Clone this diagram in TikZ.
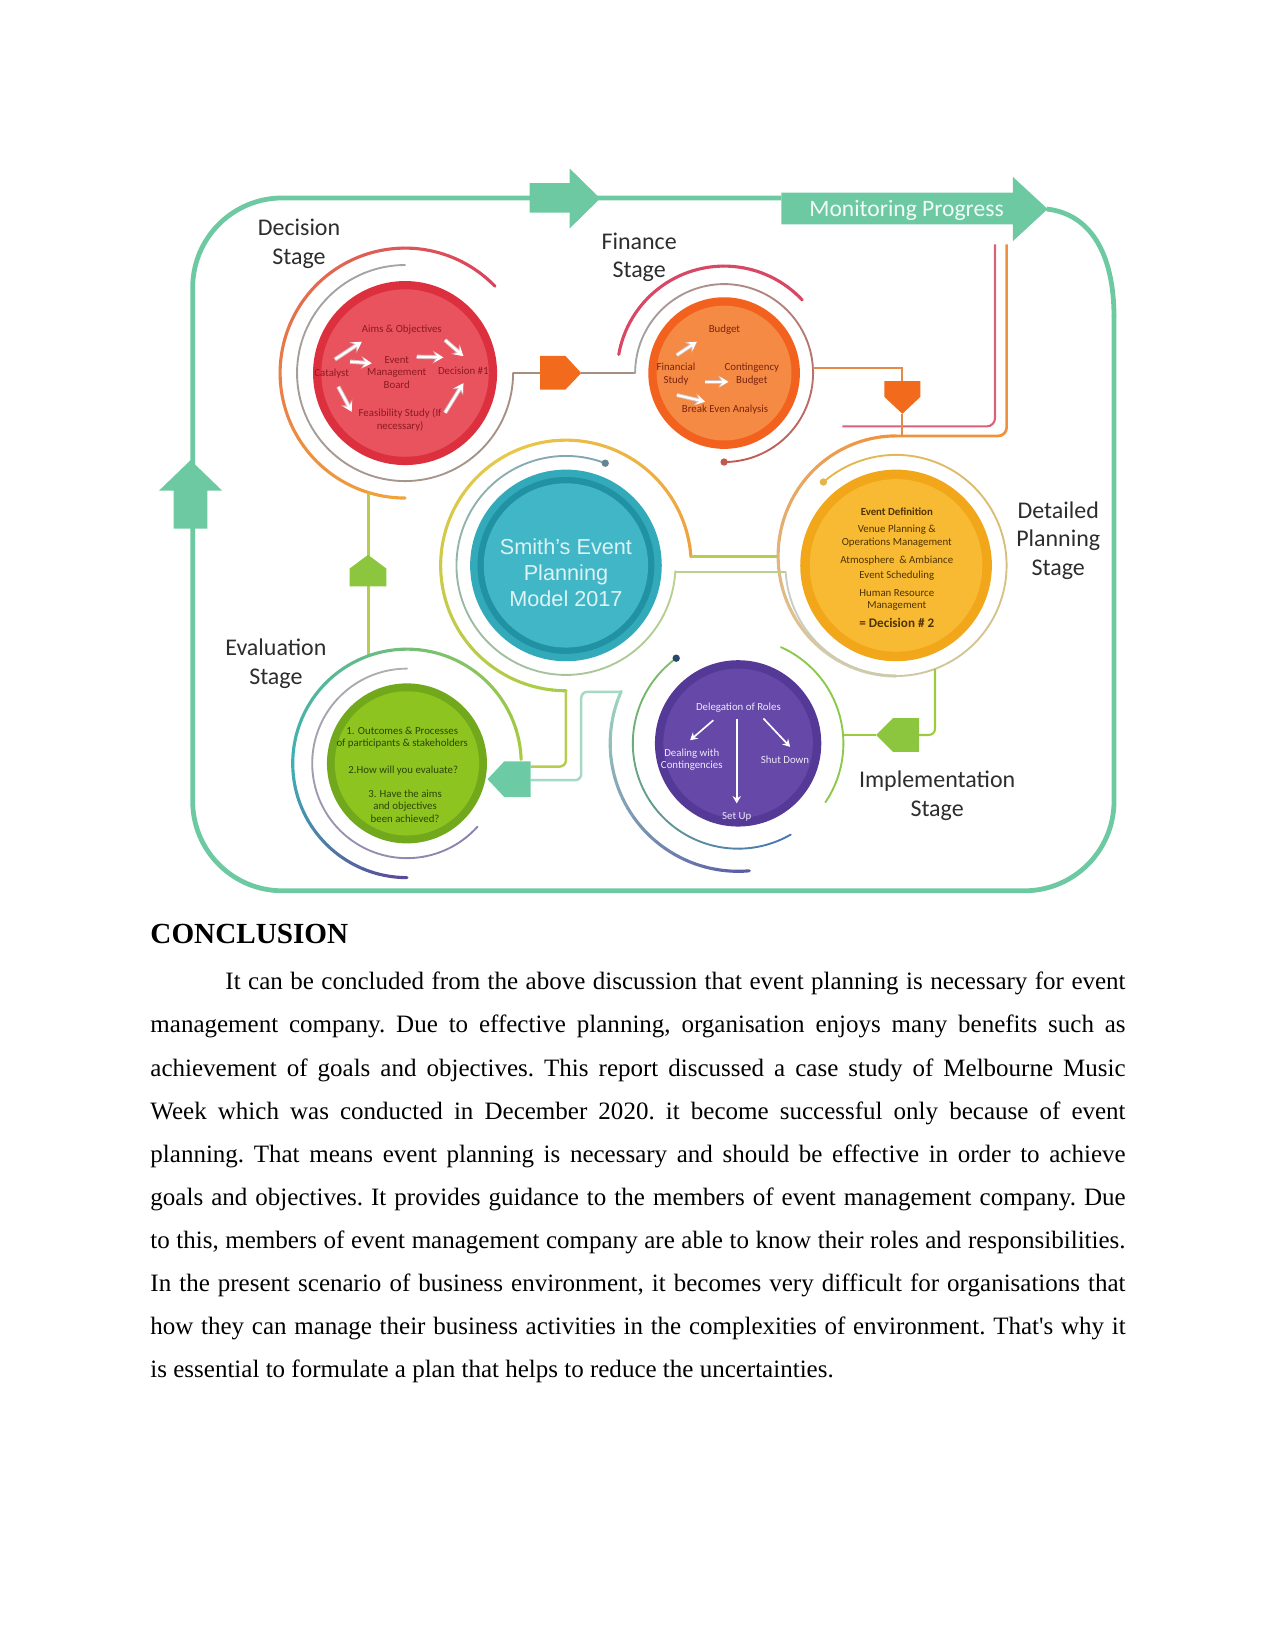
\documentclass[tikz,border=0pt]{standalone}
\usepackage{fontspec}
\setmainfont{Liberation Serif}
\newfontfamily\carl{Carlito}
\newfontfamily\arl{Liberation Sans}
\usetikzlibrary{arrows.meta}
\definecolor{tealF}{HTML}{6CC9A2}
\definecolor{labG}{HTML}{2D2D2D}
\definecolor{decO}{HTML}{DC303F}
\definecolor{decI}{HTML}{E9535E}
\definecolor{decT}{HTML}{8B1A22}
\definecolor{finO}{HTML}{F2621E}
\definecolor{finI}{HTML}{F58A44}
\definecolor{finT}{HTML}{7A2410}
\definecolor{detO}{HTML}{F2A619}
\definecolor{detI}{HTML}{F8BA33}
\definecolor{detT}{HTML}{4F3300}
\definecolor{cenA}{HTML}{32AABA}
\definecolor{cenB}{HTML}{2192A3}
\definecolor{cenC}{HTML}{41B6C6}
\definecolor{cenT}{HTML}{DDF3F5}
\definecolor{evO}{HTML}{72A91C}
\definecolor{evI}{HTML}{8DC420}
\definecolor{evT}{HTML}{2E4508}
\definecolor{imO}{HTML}{553997}
\definecolor{imI}{HTML}{6548A7}
\definecolor{imT}{HTML}{EDE8F8}
\definecolor{pentO}{HTML}{F26A1B}
\definecolor{pentG}{HTML}{8CC63F}
\definecolor{pentT}{HTML}{6CCBA4}
\definecolor{monPink}{HTML}{D9627A}
\definecolor{monOr}{HTML}{F0923B}
\definecolor{grayA}{HTML}{A5A5A5}
\definecolor{brownA}{HTML}{A88E80}
\definecolor{redA}{HTML}{D9435D}
\definecolor{orA}{HTML}{F1A33A}
\definecolor{redB}{HTML}{D84864}
\definecolor{redC}{HTML}{C05A50}
\definecolor{lightA}{HTML}{D5D5B8}
\definecolor{yelA}{HTML}{E5B54A}
\definecolor{grayB}{HTML}{C5CFC8}
\definecolor{blueG}{HTML}{7FA6B5}
\definecolor{greenL}{HTML}{B8D090}
\definecolor{orC}{HTML}{F0A040}
\definecolor{yelC}{HTML}{E8C84A}
\definecolor{grnC}{HTML}{A8CC48}
\definecolor{grnE}{HTML}{A8CC3C}
\definecolor{tealE}{HTML}{3EB0B5}
\definecolor{purE}{HTML}{5B4A9B}
\definecolor{grayE}{HTML}{B0B0B0}
\definecolor{purG}{HTML}{8A80B0}
\definecolor{tealI}{HTML}{9FD6BE}
\definecolor{purI}{HTML}{5A5EA8}
\definecolor{grnI}{HTML}{7CC263}
\definecolor{bluI}{HTML}{4877B5}
\definecolor{grnR}{HTML}{8CC84B}
\definecolor{lineY}{HTML}{B8CC50}
\definecolor{lineT}{HTML}{A6D9C4}
\definecolor{lineG}{HTML}{9CCB3B}
\definecolor{lineO}{HTML}{E58A45}
\def\pxu{0.50534bp}
\newcommand\garc[8]{%
  \foreach \gk in {0,...,23}{%
    \pgfmathsetmacro\gA{(#5)+((#6)-(#5))*\gk/24}%
    \pgfmathsetmacro\gB{(#5)+((#6)-(#5))*(\gk+1)/24}%
    \pgfmathtruncatemacro\gP{100-100*\gk/23}%
    \draw[garc, draw=#7!\gP!#8] ({#1+#3*cos(\gA)},{#2+#4*sin(\gA)}) arc[start angle=\gA, end angle=\gB, x radius=#3, y radius=#4];%
  }}
\begin{document}
\begin{tikzpicture}[x=0.50534bp,y=-0.50534bp,
  frame/.style={draw=tealF, line width=2.3bp},
  garc/.style={line width=1.5bp, line cap=round},
  conn/.style={line width=1bp, rounded corners=3bp},
  stage/.style={font=\carl\fontsize{11.5bp}{13.7bp}\selectfont, text=labG, align=center, inner sep=0},
  tiny/.style={font=\carl\fontsize{5.2bp}{6bp}\selectfont, align=center, inner sep=0},
  tinyb/.style={font=\carl\bfseries\fontsize{5.2bp}{6bp}\selectfont, align=center, inner sep=0},
  disk/.style={circle, inner sep=0pt, draw=none},
  warrow/.style={preaction={draw=#1, line width=2bp, -{Stealth[length=5bp,width=6bp]}}, draw=white, line width=1.1bp, -{Stealth[length=4bp,width=4.6bp]}},
  parrow/.style={draw=white, line width=0.8bp, -{Stealth[length=3.5bp,width=4bp]}},
]
\useasboundingbox (0,0) rectangle (1211,1568);

% ---------- outer frame ----------
\draw[frame, rounded corners=43bp] (742,188) -- (183,188) -- (183,846) -- (1058,846) -- (1058,300);
\draw[frame] (1058,301) .. controls (1058,240) and (1035,203) .. (994,198.5);
\fill[tealF] (503,174) -- (541,174) -- (541,160) -- (570,188.5) -- (541,217) -- (541,202) -- (503,202) -- cycle;
\fill[tealF] (742,183) -- (962,183) -- (962,168) -- (995,198.5) -- (962,229) -- (962,213) -- (742,213) -- cycle;
\node[font=\carl\fontsize{11.3bp}{13bp}\selectfont, text=white!92!tealF, inner sep=0] (mon) at (861,200) {Monitoring Progress};
\fill[tealF] (165,502) -- (165,466) -- (151,466) -- (181,437) -- (211,466) -- (197,466) -- (197,502) -- cycle;

% ---------- stage labels ----------
\node[stage] (lDec) at (284,231.5) {Decision\\Stage};
\node[stage] (lFin) at (607,244.5) {Finance\\Stage};
\node[stage] (lDet) at (1005,513.5) {Detailed\\Planning\\Stage};
\node[stage] (lEva) at (262,630.5) {Evaluation\\Stage};
\node[stage] (lImp) at (890,755.5) {Implementation\\Stage};

% ---------- monitoring feedback lines ----------
\draw[line width=1bp, draw=monPink, rounded corners=4bp] (945,232) -- (945,405) -- (800,405);
\draw[line width=1.3bp, draw=monOr, rounded corners=4bp] (956,232) -- (956,414) -- (851,414);

% ---------- decision arcs ----------
\garc{384.7}{354.3}{118.7}{118.7}{-44}{-270}{redA}{orA}
\begin{scope}[garc/.style={line width=0.9bp, line cap=round}]
\garc{384.7}{354.3}{102.6}{102.6}{-90}{-360}{grayA}{brownA}
\end{scope}
\draw[line width=1bp, draw=brownA] (487.3,354.3) -- (513,354.3);
\draw[line width=1bp, draw=brownA] (552,354.3) -- (603.2,354.3);
\draw[line width=1.2bp, draw=lineY] (350,467.8) -- (350,622.8);

% ---------- finance arcs ----------
\garc{687.7}{354.3}{101.6}{101.6}{-43}{-170}{redB}{redB}
\begin{scope}[garc/.style={line width=0.9bp, line cap=round}]
\garc{687.7}{354.3}{84.5}{84.5}{-180}{90}{grayA}{redC}
\end{scope}
\fill[redC] (687.7,438.8) circle[radius=3.5];
\draw[line width=1bp, draw=lineO] (772.1,349.9) -- (857,349.9) -- (857,362);
\draw[line width=1bp, draw=lineO] (857,393) -- (857,414);

% ---------- detailed arcs ----------
\garc{851}{528}{112}{114}{-90}{-270}{monOr}{lightA}
\begin{scope}[garc/.style={line width=0.9bp, line cap=round}]
\garc{851}{537}{105}{105}{-131}{176.7}{yelA}{grayB}
\end{scope}
\fill[yelA] (782,457.8) circle[radius=3.5];
\draw[conn, draw=lineG] (888,635.3) -- (888,698) -- (873,698);
\draw[line width=1bp, draw=lineG] (800,698) -- (832,698);

% ---------- central arcs ----------
\garc{537.5}{537}{119}{119}{-4}{-120}{orC}{yelC}
\garc{537.5}{537}{119}{119}{-120}{-270}{yelC}{grnC}
\begin{scope}[garc/.style={line width=0.9bp, line cap=round}]
\garc{537.5}{537}{104}{104}{-69}{-357}{blueG}{greenL}
\end{scope}
\fill[blueG!80!black] (574.8,439.9) circle[radius=3.5];
\draw[line width=1.2bp, draw=lineY] (656.2,528.7) -- (739,528.7);
\draw[line width=0.9bp, draw=greenL] (641.4,543) -- (746.2,543);
\draw[conn, draw=lineY, line width=1.2bp] (537.5,656) -- (537.5,728) -- (504,728);
\draw[conn, draw=lineT, line width=1.2bp] (504,741) -- (552,741) -- (552,657) -- (590,657);

% ---------- evaluation arcs ----------
\garc{386.5}{725}{108.5}{108.5}{-2}{-180}{grnE}{tealE}
\garc{386.5}{725}{108.5}{108.5}{-180}{-270}{tealE}{purE}
\begin{scope}[garc/.style={line width=0.9bp, line cap=round}]
\garc{386.5}{725}{90}{90}{-90}{-318}{grayE}{purG}
\end{scope}

% ---------- implementation arcs ----------
\garc{701}{706}{121.5}{121.5}{-156}{-275}{tealI}{purI}
\begin{scope}[garc/.style={line width=0.9bp, line cap=round}]
\garc{701}{706}{100}{100}{-126}{-300}{grnI}{bluI}
\garc{701}{706}{100}{100}{-66}{34}{grnR}{grnR}
\end{scope}
\fill[bluI!60!black] (642.2,625.1) circle[radius=3.5];

% ---------- pentagons ----------
\fill[pentO] (513,338) -- (537,338) -- (552,354.3) -- (537,370) -- (513,370) -- cycle;
\fill[pentO] (840,362) -- (874,362) -- (874,377) -- (857,393) -- (840,377) -- cycle;
\fill[pentG] (332,557) -- (332,540) -- (349.5,527) -- (367,540) -- (367,557) -- cycle;
\fill[pentG] (873,682) -- (873,714) -- (848,714) -- (832,698) -- (848,682) -- cycle;
\fill[pentT] (504,723) -- (504,757) -- (479,757) -- (463,740) -- (479,723) -- cycle;

% ---------- decision disk ----------
\node[disk, fill=decO, minimum size=174.8*\pxu] (decD) at (384.7,354.3) {};
\node[disk, fill=decI, minimum size=159*\pxu] (decDi) at (decD) {};
\node[tiny, text=decT] (aims) at (381.6,313.4) {Aims \& Objectives};
\node[tiny, text=decT] (cat) at (315,354.6) {Catalyst};
\node[tiny, text=decT] (emb) at (376.8,353.8) {Event\\Management\\Board};
\node[tiny, text=decT] (d1) at (440,352) {Decision \#1};
\node[tiny, text=decT] (feas) at (380,399) {Feasibility Study (If\\necessary)};
\draw[warrow=decT!30] (318.2,341.3) -- (343.6,324.6);
\draw[warrow=decT!30] (332.5,343.5) -- (353,345);
\draw[warrow=decT!30] (395.8,338.8) -- (421,339.4);
\draw[warrow=decT!30] (422.7,323) -- (440,338.2);
\draw[warrow=decT!30] (321.3,367.3) -- (334,391);
\draw[warrow=decT!30] (422.7,392) -- (440,364);

% ---------- finance disk ----------
\node[disk, fill=finO, minimum size=144*\pxu] (finD) at (687.7,354.3) {};
\node[disk, fill=finI, minimum size=128*\pxu] (finDi) at (finD) {};
\node[tiny, text=finT] (bud) at (688,313.5) {Budget};
\node[tiny, text=finT] (fst) at (642,355.5) {Financial\\Study};
\node[tiny, text=finT] (cbud) at (714,355.5) {Contingency\\Budget};
\node[tiny, text=finT] (bea) at (688.6,389.4) {Break Even Analysis};
\draw[warrow=finT!30] (642.8,337.2) -- (661.8,324.6);
\draw[warrow=finT!30] (669.6,362.6) -- (691.8,362.6);
\draw[warrow=finT!30] (642.8,375.2) -- (669.6,381.5);

% ---------- central disk ----------
\node[disk, fill=cenA, minimum size=182*\pxu] (cenD) at (537.5,537) {};
\node[disk, fill=cenB, minimum size=168*\pxu] (cenDb) at (cenD) {};
\node[disk, fill=cenC, minimum size=156*\pxu] (cenDc) at (cenD) {};
\node[font=\arl\fontsize{10.4bp}{12.4bp}\selectfont, text=cenT, align=center, inner sep=0] (title) at (537.5,544) {Smith’s Event\\Planning\\Model 2017};

% ---------- detailed disk ----------
\node[disk, fill=detO, minimum size=182*\pxu] (detD) at (851,537) {};
\node[disk, fill=detI, minimum size=164*\pxu] (detDi) at (detD) {};
\node[tinyb, text=detT] (evdef) at (851.7,486) {Event Definition};
\node[tiny, text=detT] (venue) at (851.7,509) {Venue Planning \&\\Operations Management};
\node[tiny, text=detT] (atm) at (851.7,532) {Atmosphere\ \ \& Ambiance};
\node[tiny, text=detT] (sched) at (851.7,546.8) {Event Scheduling};
\node[tiny, text=detT] (hrm) at (851.7,569.6) {Human Resource\\Management};
\node[tinyb, text=detT, font=\carl\bfseries\fontsize{6.3bp}{7bp}\selectfont] (d2) at (851.7,591.4) {= Decision \# 2};

% ---------- evaluation disk ----------
\node[disk, fill=evO, minimum size=152*\pxu] (evD) at (386.5,725) {};
\node[disk, fill=evI, minimum size=137*\pxu] (evDi) at (evD) {};
\node[tiny, text=evT] (oc) at (382,700.5) {1. Outcomes \& Processes\\of participants \& stakeholders};
\node[tiny, text=evT] (hw) at (383,731.4) {2.How will you evaluate?};
\node[tiny, text=evT] (hv) at (384.7,765.6) {3. Have the aims\\and objectives\\been achieved?};

% ---------- implementation disk ----------
\node[disk, fill=imO, minimum size=158*\pxu] (imD) at (701,706) {};
\node[disk, fill=imI, minimum size=142*\pxu] (imDi) at (imD) {};
\node[tiny, text=imT] (del) at (701.3,671.8) {Delegation of Roles};
\node[tiny, text=imT] (dwc) at (657,721.3) {Dealing with\\Contingencies};
\node[tiny, text=imT] (shut) at (745.6,722) {Shut Down};
\node[tiny, text=imT] (setup) at (699.7,775.7) {Set Up};
\draw[parrow] (677.5,684) -- (655.4,703);
\draw[parrow] (699.7,683.2) -- (699.7,763);
\draw[parrow] (725,682.3) -- (750.4,709.3);

% ---------- text ----------
\node[anchor=base west, inner sep=0, font=\bfseries\fontsize{14bp}{16bp}\selectfont] (head) at (142.5,896) {CONCLUSION};
\node[anchor=base west, inner sep=0] (body) at (142.5,940) {\parbox[t]{468bp}{\frenchspacing\fontsize{12bp}{20.7bp}\selectfont
\hspace*{36bp}It can be concluded from the above discussion that event planning is necessary for event\linebreak
management company. Due to effective planning, organisation enjoys many benefits such as\linebreak
achievement of goals and objectives. This report discussed a case study of Melbourne Music\linebreak
Week which was conducted in December 2020. it become successful only because of event\linebreak
planning. That means event planning is necessary and should be effective in order to achieve\linebreak
goals and objectives. It provides guidance to the members of event management company. Due\linebreak
to this, members of event management company are able to know their roles and responsibilities.\linebreak
In the present scenario of business environment, it becomes very difficult for organisations that\linebreak
how they can manage their business activities in the complexities of environment. That\textquotesingle s why it\linebreak
is essential to formulate a plan that helps to reduce the uncertainties.}};
\end{tikzpicture}
\end{document}
